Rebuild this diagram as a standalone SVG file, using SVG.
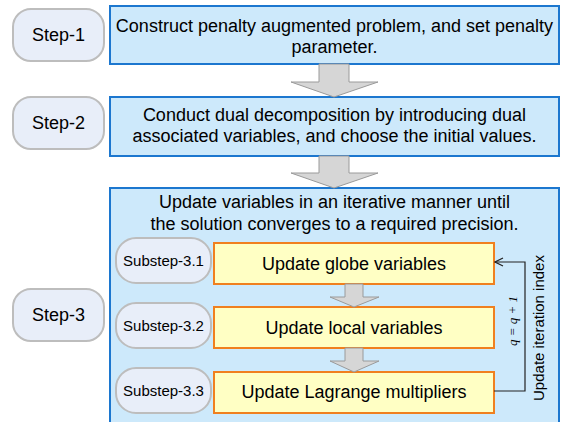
<svg xmlns="http://www.w3.org/2000/svg" width="562" height="422" viewBox="0 0 562 422">
  <style>
    .step { fill: #e8eef9; stroke: #bdbdbd; stroke-width: 2; }
    .main { fill: #cde9fb; stroke: #1c77cf; stroke-width: 2; }
    .sub { fill: #ffffc4; stroke: #f0801f; stroke-width: 2; }
    .bigarrow { fill: #d6d6d6; stroke: #9a9a9a; stroke-width: 1; }
    .t { font-family: "Liberation Sans", Arial, sans-serif; fill: #000; text-anchor: middle; }
    .t18 { font-size: 18px; }
    .t15 { font-size: 15px; }
    .loop { fill: none; stroke: #222; stroke-width: 1.2; }
  </style>
  <defs>
    <marker id="open" viewBox="0 0 10 10" refX="9" refY="5" markerWidth="10" markerHeight="10" markerUnits="userSpaceOnUse" orient="auto">
      <path d="M1,1 L9,5 L1,9" fill="none" stroke="#222" stroke-width="1.2"/>
    </marker>
  </defs>

  <rect x="0" y="0" width="562" height="422" fill="#ffffff"/>

  <!-- Step labels -->
  <g id="step1">
    <rect class="step" x="13" y="9" width="91" height="52" rx="18"/>
    <text class="t t18" x="58.5" y="41">Step-1</text>
  </g>
  <g id="step2">
    <rect class="step" x="13" y="97" width="91" height="52" rx="18"/>
    <text class="t t18" x="58.5" y="129">Step-2</text>
  </g>
  <g id="step3">
    <rect class="step" x="13" y="289" width="91" height="52" rx="18"/>
    <text class="t t18" x="58.5" y="321">Step-3</text>
  </g>

  <!-- Main step boxes -->
  <g id="box1">
    <rect class="main" x="110" y="6" width="449" height="58"/>
    <text class="t t18" x="334.5" y="32">Construct penalty augmented problem, and set penalty</text>
    <text class="t t18" x="334.5" y="53">parameter.</text>
  </g>
  <g id="box2">
    <rect class="main" x="110" y="97" width="449" height="59"/>
    <text class="t t18" x="334.5" y="121">Conduct dual decomposition by introducing dual</text>
    <text class="t t18" x="334.5" y="142">associated variables, and choose the initial values.</text>
  </g>
  <g id="box3">
    <rect class="main" x="110" y="188" width="449" height="250"/>
    <text class="t t18" x="334.5" y="208">Update variables in an iterative manner until</text>
    <text class="t t18" x="334.5" y="230">the solution converges to a required precision.</text>
  </g>

  <!-- Substep labels -->
  <g id="substep31">
    <rect class="step" x="116" y="238" width="95" height="45" rx="20"/>
    <text class="t t15" x="163.5" y="266">Substep-3.1</text>
  </g>
  <g id="substep32">
    <rect class="step" x="116" y="303" width="95" height="45" rx="20"/>
    <text class="t t15" x="163.5" y="331">Substep-3.2</text>
  </g>
  <g id="substep33">
    <rect class="step" x="116" y="368" width="95" height="45" rx="20"/>
    <text class="t t15" x="163.5" y="396">Substep-3.3</text>
  </g>

  <!-- Substep boxes -->
  <g id="globe">
    <rect class="sub" x="214" y="243" width="280" height="41"/>
    <text class="t t18" x="354" y="270">Update globe variables</text>
  </g>
  <g id="local">
    <rect class="sub" x="214" y="307" width="280" height="41"/>
    <text class="t t18" x="354" y="334">Update local variables</text>
  </g>
  <g id="lagrange">
    <rect class="sub" x="214" y="372" width="280" height="41"/>
    <text class="t t18" x="354" y="398">Update Lagrange multipliers</text>
  </g>

  <!-- Connectors -->
  <g id="connectors">
    <path class="bigarrow" d="M319,64 L349,64 L349,82 L378,82 L334,97 L291,82 L319,82 Z"/>
    <path class="bigarrow" d="M319,156 L349,156 L349,173 L378,173 L334,188 L291,173 L319,173 Z"/>
    <path class="bigarrow" d="M345,284 L363,284 L363,297 L379,297 L354,307 L330,297 L345,297 Z"/>
    <path class="bigarrow" d="M345,348 L363,348 L363,361 L379,361 L354,372 L330,361 L345,361 Z"/>
    <path class="loop" d="M494,391 L525,391 L525,262 L495,262" marker-end="url(#open)"/>
    <text x="517" y="321" transform="rotate(-90 517 321)" text-anchor="middle" font-family="'Liberation Serif', 'Times New Roman', serif" font-style="italic" font-size="13" fill="#000">q = q + 1</text>
    <text class="t t15" x="544" y="328" transform="rotate(-90 544 328)">Update iteration index</text>
  </g>
</svg>
